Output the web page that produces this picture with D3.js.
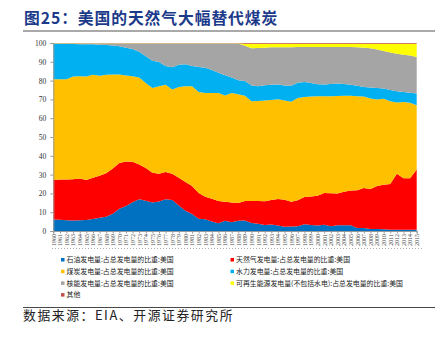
<!DOCTYPE html>
<html><head><meta charset="utf-8">
<script src="https://cdn.jsdelivr.net/npm/d3@7"></script>
<style>body{margin:0;background:#fff}svg{display:block}</style>
</head><body>
<svg id="c" width="442" height="338"></svg>
<script>
const years = [1960,1961,1962,1963,1964,1965,1966,1967,1968,1969,1970,1971,1972,1973,1974,1975,1976,1977,1978,1979,1980,1981,1982,1983,1984,1985,1986,1987,1988,1989,1990,1991,1992,1993,1994,1995,1996,1997,1998,1999,2000,2001,2002,2003,2004,2005,2006,2007,2008,2009,2010,2011,2012,2013,2014,2015];
const oil = [6.2,6.0,5.7,5.6,5.7,5.9,6.4,7.0,7.6,9.2, 11.9,13.3,15.3,16.9,16.1,15.1,15.7,16.9,16.5,13.5, 10.8,9.0,6.5,6.2,5.0,4.1,5.5,4.6,5.5,5.6, 4.2,3.9,3.2,3.5,2.9,2.2,2.4,2.5,3.6,3.2, 2.9,3.3,2.5,3.1,3.0,3.0,1.6,1.6,1.1,1.0, 0.9,0.7,0.6,0.7,0.7,0.7];
const gas = [21.0,21.5,21.8,22.0,22.3,21.3,22.0,22.4,23.2,24.1, 24.3,23.7,21.6,18.5,17.4,15.9,14.7,14.5,14.0,14.8, 15.2,15.0,13.7,12.0,12.2,11.8,10.1,10.6,9.4,10.4, 11.8,12.0,12.6,13.0,14.1,14.5,13.2,13.9,14.5,15.1, 15.8,16.9,17.6,16.8,17.9,18.5,20.1,21.3,21.3,23.0, 23.7,24.3,29.8,27.3,27.4,32.0];
const coal = [53.8,53.5,53.4,54.7,54.5,55.1,54.8,53.2,52.4,50.0, 47.0,45.7,45.4,46.3,45.2,45.1,46.6,46.4,44.7,48.3, 51.0,53.0,53.8,55.2,56.2,57.5,56.5,58.2,57.8,55.9, 53.0,53.3,53.6,53.3,53.1,52.8,53.2,54.4,53.2,53.2, 53.0,51.5,51.6,51.9,51.1,50.4,50.0,48.6,48.1,45.9, 45.8,44.0,37.9,40.6,40.1,34.2];
const hydro = [18.9,18.9,18.9,17.4,17.1,17.2,16.2,16.6,15.8,15.4, 15.1,14.8,14.5,13.6,14.3,14.5,12.9,10.0,11.9,11.8, 11.7,10.8,13.2,13.4,12.2,10.8,10.8,8.3,7.5,7.9, 8.4,7.8,8.1,8.1,7.9,8.0,8.5,8.1,8.0,7.2, 6.3,6.2,6.5,6.6,6.2,5.9,5.6,5.1,5.8,6.2, 5.4,6.0,6.1,5.3,5.4,6.2];
const nuclear = [0.1,0.1,0.2,0.2,0.3,0.3,0.4,0.6,0.8,1.0, 1.4,2.2,2.9,4.4,6.7,9.1,9.8,11.9,12.6,11.3, 11.0,11.9,12.5,12.9,14.1,15.5,16.8,18.0,19.5,18.7, 19.8,20.3,20.0,20.0,19.9,20.4,20.6,19.0,18.6,19.2, 19.9,20.0,19.7,19.5,19.7,20.1,20.4,20.9,20.9,20.4, 20.0,20.0,19.9,19.9,19.7,19.5];
const renewable = [0.2,0.2,0.2,0.2,0.2,0.2,0.2,0.2,0.2,0.2, 0.2,0.2,0.2,0.2,0.2,0.2,0.2,0.2,0.2,0.2, 0.2,0.2,0.2,0.2,0.2,0.2,0.2,0.2,0.2,1.1, 2.4,2.3,2.1,1.8,1.8,1.8,1.8,1.7,1.7,1.7, 1.7,1.7,1.7,1.7,1.7,1.7,1.9,2.1,2.4,3.1, 3.8,4.6,5.3,5.8,6.3,7.0];
const other = [0.1,0.1,0.1,0.1,0.1,0.1,0.1,0.1,0.1,0.1, 0.1,0.1,0.1,0.1,0.1,0.1,0.1,0.1,0.1,0.1, 0.1,0.1,0.1,0.1,0.1,0.1,0.1,0.1,0.1,0.4, 0.4,0.4,0.4,0.4,0.4,0.4,0.4,0.4,0.4,0.4, 0.4,0.4,0.4,0.4,0.4,0.4,0.4,0.4,0.4,0.4, 0.4,0.4,0.4,0.4,0.4,0.4];
const seriesNames = ["石油发电量:占总发电量的比重:美国","天然气发电量:占总发电量的比重:美国","煤炭发电量:占总发电量的比重:美国","水力发电量:占总发电量的比重:美国","核能发电量:占总发电量的比重:美国","可再生能源发电量(不包括水电):占总发电量的比重:美国","其他"];
const seriesColors = ["#0070C0","#FF0000","#FFC000","#00B0F0","#A5A5A5","#FFFF00","#C0504D"];
const yTicks = [0,10,20,30,40,50,60,70,80,90,100];
const title = "图25：美国的天然气大幅替代煤炭";
const source = "数据来源：EIA、开源证券研究所";

const keys = ["oil","gas","coal","hydro","nuclear","renewable","other"];
const cols = [oil,gas,coal,hydro,nuclear,renewable,other];
const table = years.map((y,i)=>{const o={year:y}; keys.forEach((k,j)=>o[k]=cols[j][i]); return o;});
const stacked = d3.stack().keys(keys).offset(d3.stackOffsetExpand)(table);

const svg = d3.select("#c");
const L=53.3, R=416.7, T=43, B=231;
const x = d3.scaleLinear().domain([years[0], years[years.length-1]]).range([L,R]);
const y = d3.scaleLinear().domain([0,100]).range([B,T]);

// title
svg.append("text").attr("x",24).attr("y",24).text(title)
  .attr("font-family","'Noto Sans CJK SC'").attr("font-weight","bold").attr("font-size",15.8)
  .attr("fill","#1C3A8A").attr("letter-spacing",0.9);
svg.append("line").attr("x1",23).attr("x2",435).attr("y1",31).attr("y2",31).attr("stroke","#8c8c8c").attr("stroke-width",1.6);

// areas
const area = d3.area().x(d=>x(d.data.year)).y0(d=>y(d[0]*100)).y1(d=>y(d[1]*100));
svg.append("g").selectAll("path").data(stacked).join("path")
  .attr("d",area).attr("fill",(d,i)=>seriesColors[i]);

// y axis
const yAxis = svg.append("g").attr("transform",`translate(${L},0)`)
  .call(d3.axisLeft(y).tickValues(yTicks).tickSize(3).tickPadding(4));
yAxis.select(".domain").attr("stroke","#999");
yAxis.selectAll(".tick line").attr("stroke","#999");
yAxis.selectAll("text").attr("font-family","'Liberation Serif'").attr("font-size",7.5).attr("fill","#333");

// x axis
const xAxis = svg.append("g").attr("transform",`translate(0,${B})`)
  .call(d3.axisBottom(x).tickValues(years).tickFormat(d3.format("d")).tickSize(2.5).tickPadding(2));
xAxis.select(".domain").attr("stroke","#999");
xAxis.selectAll(".tick line").attr("stroke","#999");
xAxis.selectAll("text").attr("font-family","'Liberation Serif'").attr("font-size",6).attr("fill","#444")
  .attr("text-anchor","end").attr("dy",null).attr("transform","translate(0,3) rotate(-90)").attr("x",0).attr("y",0.5).attr("dominant-baseline","middle");

// dotted separator
svg.append("line").attr("x1",52).attr("x2",422).attr("y1",248.5).attr("y2",248.5)
  .attr("stroke","#999").attr("stroke-width",0.8).attr("stroke-dasharray","1,2");

// legend
const lg = svg.append("g");
seriesNames.forEach((n,i)=>{
  const col = i===6?0:i%2, row = Math.floor(i/2);
  const gx = col===0?61:230.5, gy = 260+row*11.7;
  lg.append("rect").attr("x",gx).attr("y",gy-2).attr("width",3.5).attr("height",3.5).attr("fill",seriesColors[i]);
  lg.append("text").attr("x",gx+5.5).attr("y",gy+2.3).text(n)
    .attr("font-family","'Noto Sans CJK SC'").attr("font-size",6.9).attr("fill","#222");
});

// bottom line & source
svg.append("line").attr("x1",23).attr("x2",435).attr("y1",307.5).attr("y2",307.5).attr("stroke","#333").attr("stroke-width",0.9);
svg.append("text").attr("x",23).attr("y",320).text(source)
  .attr("font-family","'Noto Sans CJK SC'").attr("font-size",12.8).attr("fill","#222").attr("letter-spacing",1.6);
</script>
</body></html>
